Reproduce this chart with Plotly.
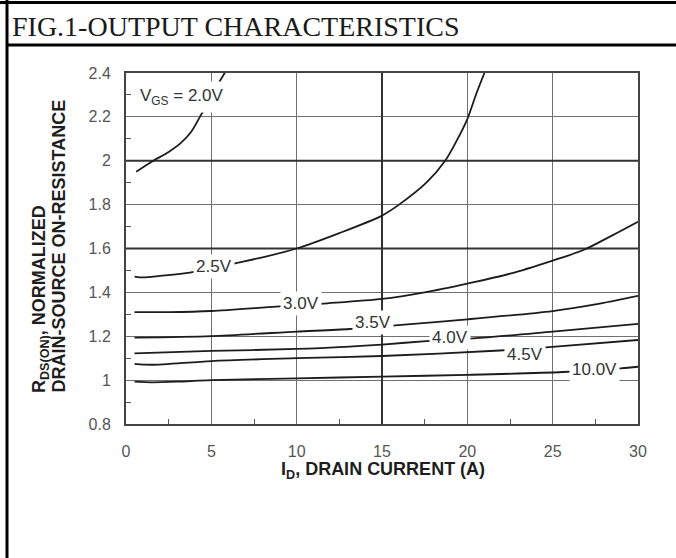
import plotly.graph_objects as go

# ---- data ----
X_TICKS = [0, 5, 10, 15, 20, 25, 30]
X_TICK_LABELS = ["0", "5", "10", "15", "20", "25", "30"]
Y_TICKS = [0.8, 1.0, 1.2, 1.4, 1.6, 1.8, 2.0, 2.2, 2.4]
Y_TICK_LABELS = ["0.8", "1", "1.2", "1.4", "1.6", "1.8", "2", "2.2", "2.4"]

vgs20_x = [0.6, 1.6, 2.5, 3.2, 3.8, 4.33, 5.4, 5.86]
vgs20_y = [1.95, 2.0, 2.04, 2.08, 2.13, 2.2, 2.35, 2.41]

vgs25_x = [0.5, 1.0, 2.0, 3.75, 6.5, 8.0, 10.0, 12.5, 15.0, 16.0, 17.6, 18.7, 19.4, 20.0, 20.5, 21.0]
vgs25_y = [1.472, 1.468, 1.475, 1.49, 1.535, 1.56, 1.6, 1.67, 1.75, 1.80, 1.90, 2.0, 2.095, 2.19, 2.30, 2.40]

vgs30_x = [0.5, 2.5, 5.0, 8.8, 11.8, 15.0, 17.5, 20.0, 22.5, 25.0, 26.8, 28.5, 30.0]
vgs30_y = [1.31, 1.31, 1.315, 1.335, 1.35, 1.37, 1.40, 1.44, 1.485, 1.545, 1.593, 1.66, 1.722]

vgs35_x = [0.5, 5.0, 10.0, 13.1, 15.95, 20.0, 25.0, 27.5, 30.0]
vgs35_y = [1.194, 1.201, 1.221, 1.233, 1.251, 1.277, 1.315, 1.345, 1.384]

vgs40_x = [0.5, 5.0, 10.0, 13.1, 15.0, 17.6, 20.35, 25.0, 30.0]
vgs40_y = [1.122, 1.133, 1.142, 1.153, 1.162, 1.178, 1.19, 1.221, 1.256]

vgs45_x = [0.5, 1.5, 5.0, 10.0, 15.0, 21.9, 24.8, 30.0]
vgs45_y = [1.074, 1.07, 1.087, 1.10, 1.11, 1.135, 1.15, 1.183]

vgs100_x = [0.5, 1.5, 3.0, 5.0, 10.0, 15.0, 20.0, 25.6, 29.0, 30.0]
vgs100_y = [0.993, 0.99, 0.993, 1.0, 1.008, 1.016, 1.024, 1.037, 1.054, 1.061]

SERIES = [
    (vgs20_x, vgs20_y), (vgs25_x, vgs25_y), (vgs30_x, vgs30_y), (vgs35_x, vgs35_y),
    (vgs40_x, vgs40_y), (vgs45_x, vgs45_y), (vgs100_x, vgs100_y),
]

# curve labels: text, x, y (data units)
LABELS = [
    ("2.5V", 5.13, 1.52),
    ("3.0V", 10.25, 1.35),
    ("3.5V", 14.47, 1.262),
    ("4.0V", 18.98, 1.194),
    ("4.5V", 23.37, 1.118),
    ("10.0V", 27.47, 1.05),
]
VGS_LABEL = ("V<sub>GS</sub> = 2.0V", 0.5, 2.29)
HEAVY_Y = [1.6, 2.0]
HEAVY_X = [15]

TITLE = "FIG.1-OUTPUT CHARACTERISTICS"
X_TITLE = "I<sub>D</sub>, DRAIN CURRENT (A)"
Y_TITLE_1 = "R<sub>DS(ON)</sub>, NORMALIZED"
Y_TITLE_2 = "DRAIN-SOURCE ON-RESISTANCE"

# ---- figure ----
W, H = 676, 558
L, R, T, B = 126, 38, 73, 134
PW, PH = W - L - R, H - T - B


def px(xp):
    return (xp - L) / PW


def py(yp):
    return (H - B - yp) / PH


fig = go.Figure()
for xs, ys in SERIES:
    fig.add_trace(go.Scatter(x=xs, y=ys, mode="lines",
                             line=dict(color="#1c1c1c", width=1.8, shape="spline", smoothing=0.8),
                             hoverinfo="skip", showlegend=False))

label_font = dict(family="Arial, Liberation Sans, sans-serif", size=17, color="#333333")
ann = []
for txt, x, y in LABELS:
    ann.append(dict(text=txt, x=x, y=y, xref="x", yref="y", showarrow=False,
                    font=label_font, bgcolor="white", borderpad=2,
                    xanchor="center", yanchor="middle"))
ann.append(dict(text=VGS_LABEL[0], x=VGS_LABEL[1], y=VGS_LABEL[2], xref="x", yref="y",
                showarrow=False, font=label_font, bgcolor="white", borderpad=4,
                xanchor="left", yanchor="middle"))

title_font = dict(family="Arial, Liberation Sans, sans-serif", size=18, color="#1e1e1e")
ann.append(dict(text="<b>" + X_TITLE + "</b>", x=px(383), y=py(470), xref="paper", yref="paper",
                showarrow=False, font=title_font, xanchor="center", yanchor="middle"))
ann.append(dict(text="<b>" + Y_TITLE_1 + "</b>", x=px(40), y=py(395), xref="paper", yref="paper",
                showarrow=False, font=title_font, textangle=-90, xanchor="center", yanchor="bottom"))
ann.append(dict(text="<b>" + Y_TITLE_2 + "</b>", x=px(58), y=py(395), xref="paper", yref="paper",
                showarrow=False, font=title_font, textangle=-90, xanchor="center", yanchor="bottom"))
ann.append(dict(text=TITLE, x=px(10), y=py(26), xref="paper", yref="paper", showarrow=False,
                font=dict(family="Liberation Serif, Times New Roman, serif", size=28, color="#1a1a1a"),
                xanchor="left", yanchor="middle"))

shapes = []
for yv in HEAVY_Y:
    shapes.append(dict(type="line", xref="x", yref="y", x0=0, x1=30, y0=yv, y1=yv,
                       line=dict(color="#333333", width=2), layer="between"))
for xv in HEAVY_X:
    shapes.append(dict(type="line", xref="x", yref="y", x0=xv, x1=xv, y0=0.8, y1=2.4,
                       line=dict(color="#333333", width=2), layer="between"))
# page frame
frame = dict(color="black", width=3)
shapes.append(dict(type="line", xref="paper", yref="paper", x0=px(0), x1=px(W), y0=py(2.5), y1=py(2.5), line=frame))
shapes.append(dict(type="line", xref="paper", yref="paper", x0=px(6), x1=px(W), y0=py(45), y1=py(45), line=frame))
shapes.append(dict(type="line", xref="paper", yref="paper", x0=px(7), x1=px(7), y0=py(0), y1=py(H), line=frame))

tick_font = dict(family="Arial, Liberation Sans, sans-serif", size=16, color="#555555")
fig.update_layout(
    width=W, height=H, margin=dict(l=L, r=R, t=T, b=B),
    paper_bgcolor="white", plot_bgcolor="white",
    annotations=ann, shapes=shapes,
    xaxis=dict(range=[0, 30], tickvals=X_TICKS, ticktext=X_TICK_LABELS, showgrid=True,
               gridcolor="#707070", gridwidth=1, zeroline=False, showline=True,
               linecolor="#444444", linewidth=2, mirror=True, ticks="", tickfont=tick_font,
               ticklabelstandoff=12,
               minor=dict(tick0=2.5, dtick=5, ticks="inside", ticklen=5, tickcolor="#555555",
                          tickwidth=1, showgrid=False)),
    yaxis=dict(range=[0.8, 2.4], tickvals=Y_TICKS, ticktext=Y_TICK_LABELS, showgrid=True,
               gridcolor="#707070", gridwidth=1, zeroline=False, showline=True,
               linecolor="#444444", linewidth=2, mirror=True, ticks="", tickfont=tick_font,
               ticklabelstandoff=10,
               minor=dict(tick0=0.9, dtick=0.2, ticks="inside", ticklen=5, tickcolor="#555555",
                          tickwidth=1, showgrid=False)),
)

fig.write_html("out.html")
